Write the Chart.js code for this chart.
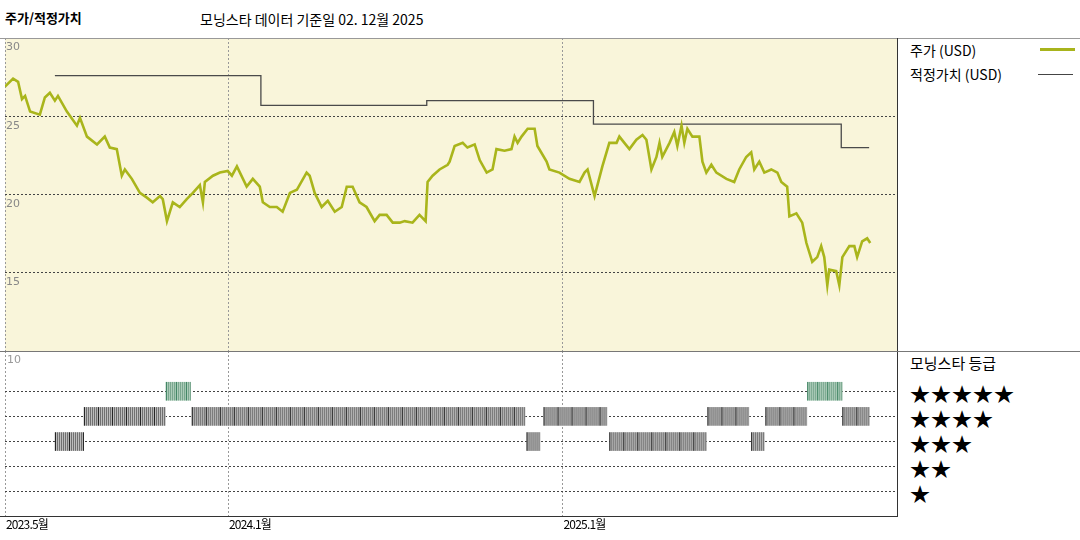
<!DOCTYPE html>
<html><head><meta charset="utf-8">
<script src="https://cdn.jsdelivr.net/npm/chart.js@4"></script>
<style>
body{margin:0;width:1080px;height:540px;background:#fff;position:relative;font-family:"Noto Sans CJK KR","Noto Sans",sans-serif;overflow:hidden}
.t{position:absolute;white-space:nowrap;color:#000}
.ln{position:absolute;background:#333}
</style></head><body>
<div class="t" style="left:5px;top:8px;font-size:13px;font-weight:bold">주가/적정가치</div>
<div class="t" style="left:200px;top:9px;font-size:14px">모닝스타 데이터 기준일 02. 12월 2025</div>
<div class="t" style="left:910px;top:40px;font-size:14px">주가 (USD)</div>
<div class="ln" style="left:1040px;top:48px;width:35px;height:3px;background:#a8b41c"></div>
<div class="t" style="left:910px;top:64px;font-size:14px">적정가치 (USD)</div>
<div class="ln" style="left:1038px;top:74px;width:35px;height:1px;background:#444"></div>
<div class="t" style="left:910px;top:352px;font-size:15px">모닝스타 등급</div>
<div id="stars"></div>
<div style="position:absolute;left:5px;top:38px;width:892px;height:313px"><canvas id="c1"></canvas></div>
<div style="position:absolute;left:5px;top:351px;width:892px;height:166px"><canvas id="c2"></canvas></div>
<div class="ln" style="left:0;top:38px;width:1080px;height:1px;background:#999"></div>
<div class="ln" style="left:897px;top:38px;width:1px;height:479px"></div>
<div class="ln" style="left:0;top:351px;width:1080px;height:1px;background:#777"></div>
<div class="ln" style="left:0;top:516px;width:898px;height:1px"></div>
<script>
// months since 2023-05
const priceMonths=[0,0.29,0.47,0.61,0.72,0.90,1.25,1.43,1.61,1.79,1.90,2.22,2.58,2.69,2.94,3.30,3.58,3.76,4.01,4.19,4.30,4.55,4.84,5.09,5.30,5.56,5.66,5.81,6.02,6.27,6.52,6.74,6.99,7.10,7.17,7.46,7.71,7.99,8.14,8.32,8.67,8.89,9.14,9.25,9.50,9.75,9.96,10.22,10.47,10.82,10.93,11.11,11.36,11.58,11.83,12.08,12.26,12.47,12.72,12.97,13.26,13.44,13.69,13.91,14.16,14.34,14.62,14.87,15.09,15.16,15.34,15.59,15.88,15.95,16.13,16.42,16.59,16.85,17.03,17.28,17.49,17.63,17.92,18.17,18.28,18.39,18.53,18.75,19.00,19.10,19.43,19.53,19.89,20.25,20.61,20.79,20.90,21.15,21.43,21.68,21.94,22.04,22.22,22.40,22.65,22.87,23.01,23.19,23.37,23.48,23.58,23.84,24.01,24.12,24.27,24.37,24.48,24.66,24.91,25.02,25.16,25.34,25.52,25.88,26.16,26.34,26.59,26.77,26.88,27.06,27.24,27.49,27.71,27.85,28.06,28.14,28.39,28.60,28.75,28.96,29.14,29.28,29.39,29.50,29.57,29.82,29.93,30.04,30.29,30.47,30.57,30.75,30.93,31.04];
const priceValues=[26.9,27.4,27.2,26.1,26.3,25.3,25.1,26.2,26.5,26.0,26.3,25.3,24.4,24.9,23.7,23.2,23.7,23.0,22.9,21.2,21.6,21.0,20.1,19.8,19.5,19.9,19.7,18.3,19.5,19.2,19.7,20.1,20.6,19.5,20.8,21.2,21.4,21.5,21.2,21.8,20.5,21.0,20.5,19.5,19.2,19.2,18.9,20.1,20.3,21.4,21.2,20.1,19.2,19.6,18.9,19.2,20.5,20.5,19.5,19.2,18.3,18.7,18.7,18.2,18.2,18.3,18.2,18.7,18.3,20.8,21.2,21.6,21.9,22.1,23.1,23.3,23.0,23.2,22.2,21.4,21.6,22.9,22.8,22.9,23.7,23.3,23.7,24.2,24.2,23.1,22.1,21.6,21.4,21.0,20.8,21.4,21.6,19.9,21.8,23.3,23.3,23.7,23.3,22.9,23.5,23.8,23.5,21.6,22.4,23.3,22.4,23.3,24.0,23.1,24.4,23.3,24.2,23.7,23.7,22.1,21.4,21.9,21.4,21.0,20.8,21.6,22.4,22.7,21.6,22.1,21.4,21.6,21.4,20.8,20.5,18.6,18.8,18.2,16.9,15.7,16.0,16.7,16.0,14.2,15.2,15.1,14.2,16.0,16.7,16.7,16.0,17.0,17.2,16.9];
const fairMonths=[1.79,9.18,15.13,21.11,30.00,31.00];
const fairValues=[27.6,25.7,26.0,24.5,23.0,23.0];
const ratingStart=[1.79,2.83,5.77,6.70,18.71,19.32,21.68,25.20,26.77,27.28,28.78,30.04];
const ratingEnd  =[2.80,5.77,6.67,18.67,19.21,21.61,25.16,26.70,27.24,28.78,30.04,31.00];
const ratingStars=[3,4,5,4,3,4,3,4,3,4,5,4];
const yTicks=[15,20,25,30];
const xTickMonths=[0,8,20];
const xTickLabels=['2023.5월','2024.1월','2025.1월'];
const starRows=[5,4,3,2,1];

let sh='';starRows.forEach(n=>{sh+=`<div class="t" style="left:910px;top:${392+(5-n)*25-13}px;font-size:20px;letter-spacing:1px">${'★'.repeat(n)}</div>`});
document.getElementById('stars').innerHTML=sh;

const xScale={type:'linear',min:0,max:32,afterBuildTicks:s=>{s.ticks=xTickMonths.map(v=>({value:v}))},
  ticks:{display:false},grid:{color:'#999',drawTicks:false},border:{display:false,dash:[2,2]}};

const bg={id:'bg',beforeDraw(c){const a=c.chartArea,x=c.ctx;x.save();x.fillStyle=c.options.plugins.bg.color;x.fillRect(a.left,a.top,a.right-a.left,a.bottom-a.top);x.restore();}};
Chart.defaults.animation=false;Chart.defaults.devicePixelRatio=1;

new Chart(document.getElementById('c1'),{type:'line',
 data:{datasets:[
  {data:priceMonths.map((m,i)=>({x:m,y:priceValues[i]})),borderColor:'#a9b51b',borderWidth:2.6,pointRadius:0,tension:0},
  {data:fairMonths.map((m,i)=>({x:m,y:fairValues[i]})),borderColor:'#4a4a4a',borderWidth:1.3,pointRadius:0,stepped:'before'}]},
 options:{responsive:true,maintainAspectRatio:false,layout:{padding:0},
  plugins:{legend:{display:false},tooltip:{enabled:false},bg:{color:'#f9f5da'}},
  scales:{x:xScale,y:{min:10,max:30,afterBuildTicks:s=>{s.ticks=yTicks.map(v=>({value:v}))},ticks:{display:false},
   grid:{color:'#444',drawTicks:false},border:{display:false,dash:[2,2]}}}},
 plugins:[bg,{id:'yl',afterDraw(c){const x=c.ctx;x.save();x.fillStyle='#888';x.font='11px "DejaVu Sans"';x.textBaseline='top';
   yTicks.forEach(v=>{x.fillText(String(v),c.chartArea.left+1,c.scales.y.getPixelForValue(v)+4)});x.restore();}}]});

new Chart(document.getElementById('c2'),{type:'line',
 data:{datasets:[]},
 options:{responsive:true,maintainAspectRatio:false,layout:{padding:0},
  plugins:{legend:{display:false},tooltip:{enabled:false},bg:{color:'#fff'}},
  scales:{x:xScale,y:{min:0,max:6.6,afterBuildTicks:s=>{s.ticks=[1,2,3,4,5].map(v=>({value:v}))},ticks:{display:false},
   grid:{color:'#444',drawTicks:false},border:{display:false,dash:[2,2]}}}},
 plugins:[bg,{id:'rt',afterDraw(c){const x=c.ctx,xs=c.scales.x,ys=c.scales.y;x.save();
   ratingStart.forEach((s,i)=>{const x1=xs.getPixelForValue(s),x2=xs.getPixelForValue(ratingEnd[i]);
     const five=ratingStars[i]===5;const y1=ys.getPixelForValue(ratingStars[i]+0.37),y2=ys.getPixelForValue(ratingStars[i]-0.37);
     x.fillStyle=five?'#b8d4c4':'#c8c8c8';x.fillRect(x1,y1,x2-x1,y2-y1);
     let k=0;for(let p=x1;p<x2;p+=2,k++){x.fillStyle=five?(k%5===0?'#2e7a55':'#6f9f85'):(k%7===0?'#111':'#666');x.fillRect(p,y1,1,y2-y1);}
   });
   x.fillStyle='#999';x.font='11px "DejaVu Sans"';x.textBaseline='top';x.fillText('10',c.chartArea.left+2,c.chartArea.top+4);
   x.restore();}}]});

(function(){const px=m=>5+m*892/32;
xTickMonths.forEach((m,i)=>{const d=document.createElement('div');d.className='t';d.style.cssText=`left:${px(m)+1}px;top:515px;font-size:12px;letter-spacing:-0.8px`;d.textContent=xTickLabels[i];document.body.appendChild(d);});})();
</script>
</body></html>
